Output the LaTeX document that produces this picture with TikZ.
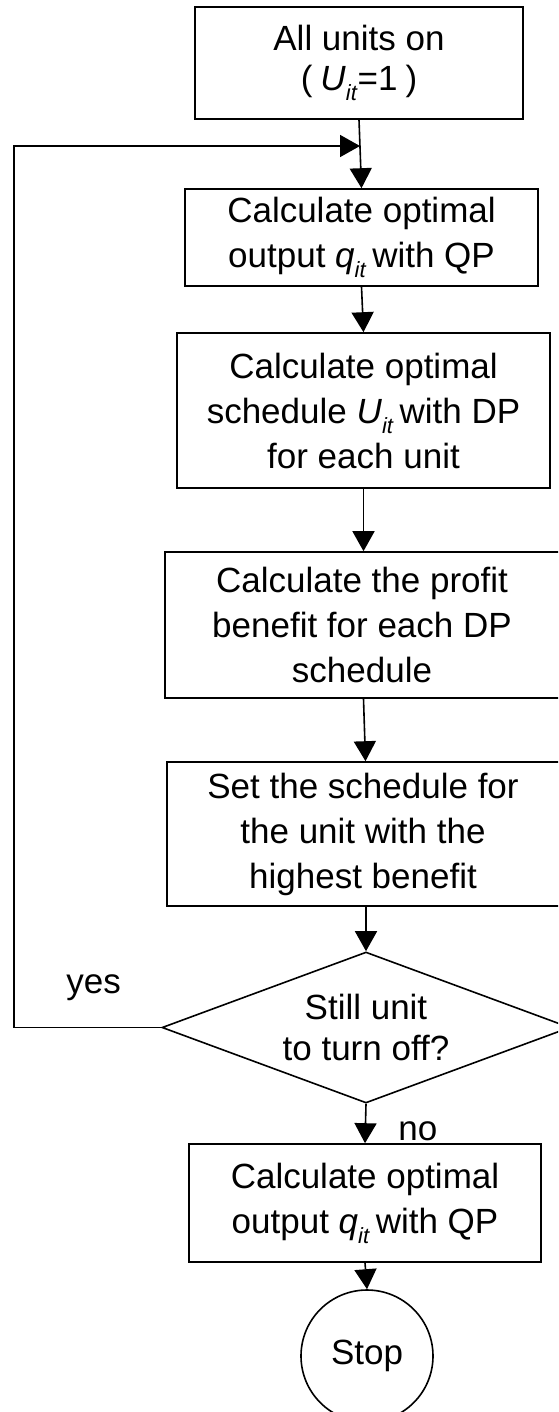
\documentclass[tikz,border=0pt]{standalone}
\usepackage{fontspec}
\setmainfont{Liberation Sans}
\usetikzlibrary{arrows.meta,shapes.geometric}

% italic variable with a lowered italic index, e.g. U_it
\newcommand{\ivar}[2]{\textit{#1}\raisebox{-0.55ex}{\fontsize{11pt}{11pt}\selectfont\textit{#2}}}
% a line pushed left inside a box whose right side runs off the page
\newcommand{\lline}[1]{\hspace{-20.5pt}#1}

\begin{document}
\begin{tikzpicture}[x=0.5pt,y=-0.5pt,
  every node/.style={font=\fontsize{17.5pt}{22.5pt}\selectfont},
  procbox/.style={draw,line width=0.8pt,align=center,inner sep=0pt},
  decision/.style={draw,line width=0.8pt,shape=diamond,aspect=2.7,align=center,inner sep=0pt},
  terminal/.style={draw,line width=0.8pt,shape=circle,inner sep=0pt},
  tag/.style={inner sep=0pt},
  arr/.style={line width=0.8pt,-{Triangle[length=10pt,width=11pt]}},
]
\useasboundingbox (0,0) rectangle (558,1412);
\clip (0,0) rectangle (558,1412);

% process steps (the two widest run past the right edge)
\node[procbox,minimum width=164pt,minimum height=56pt,
      font=\fontsize{17.5pt}{20pt}\selectfont] (b1) at (359,63)
  {All units on\\(\hspace{4pt}\ivar{U}{it}=1\hspace{4pt})};
\node[procbox,minimum width=176.5pt,minimum height=48.5pt] (b2) at (361.5,237.5)
  {Calculate optimal\\output \ivar{q}{it}\,with QP};
\node[procbox,minimum width=186.5pt,minimum height=77.5pt] (b3) at (363.5,410.5)
  {Calculate optimal\\schedule \ivar{U}{it}\,with DP\\for each unit};
\node[procbox,minimum width=217.5pt,minimum height=73pt] (b4) at (382.5,625)
  {\lline{Calculate the profit}\\\lline{benefit for each DP}\\\lline{schedule}};
\node[procbox,minimum width=216.5pt,minimum height=72pt] (b5) at (383.5,834)
  {\lline{Set the schedule for}\\\lline{the unit with the}\\\lline{highest benefit}};
\node[decision,minimum width=204pt,minimum height=75.5pt,
      font=\fontsize{17.5pt}{20.5pt}\selectfont] (dia) at (366,1027.5)
  {Still unit\\to turn off?};
\node[procbox,minimum width=176pt,minimum height=59pt] (b6) at (365,1203)
  {Calculate optimal\\output \ivar{q}{it}\,with QP};
\node[terminal,minimum size=66pt] (stop) at (367,1356) {Stop};

% branch labels
\node[tag,anchor=base west] (yes) at (66,993) {yes};
\node[tag,anchor=base west] (no) at (398,1140) {no};

% loop-back route
\coordinate (lc) at (14,1027.5);
\coordinate (j) at (360,146);

% connectors
\draw[arr] (b1.south) -- (b2.north);
\draw[arr] (b2.south) -- (b3.north);
\draw[arr] (b3.south) -- (b3.south |- b4.north);
\draw[arr] ([xshift=-9.5pt]b4.south) -- ([xshift=-9pt]b5.north);
\draw[arr] ([xshift=-8.75pt]b5.south) -- (dia.north);
\draw[arr] (dia.south) -- (b6.north);
\draw[arr] (b6.south) -- (stop.north);
\draw[arr] (dia.west) -- (lc) |- (j);
\end{tikzpicture}
\end{document}
